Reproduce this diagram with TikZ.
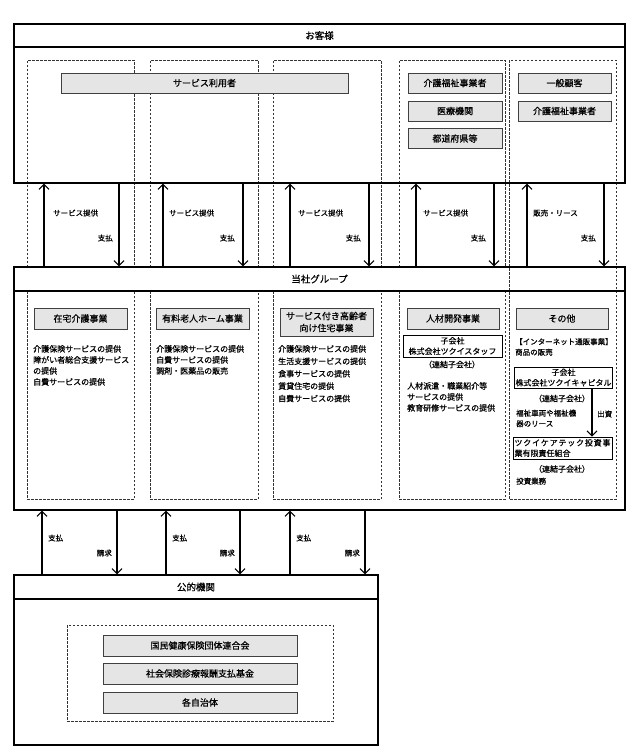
\documentclass[tikz,border=0pt]{standalone}
\usepackage{fontspec}
\newfontfamily\jpfont[FakeBold=0.6]{Noto Sans CJK JP}
\usetikzlibrary{arrows.meta}

\begin{document}
\begin{tikzpicture}[x=1pt, y=-1pt, font=\jpfont]
	\tikzstyle{frameStyle}=[draw, line width=1.3pt, inner sep=0pt, font=\jpfont\fontsize{9.5}{11}\selectfont]
	\tikzstyle{grayStyle}=[draw=black!75, fill=black!10, line width=0.8pt, inner sep=0pt, align=center, font=\jpfont\fontsize{9}{12}\selectfont]
	\tikzstyle{subStyle}=[draw, line width=0.8pt, inner sep=0pt, align=center, font=\jpfont\fontsize{8}{10.5}\selectfont]
	\tikzstyle{colStyle}=[draw=black!80, line width=0.7pt, dash pattern=on 2.5pt off 1.5pt]
	\tikzstyle{flowStyle}=[-{Straight Barb[length=5pt, width=10pt]}, line width=1.1pt]
	\tikzstyle{labelStyle}=[inner sep=0pt, font=\jpfont\fontsize{7.5}{9}\selectfont]
	\tikzstyle{listStyle}=[anchor=north west, inner sep=0pt, align=left, font=\jpfont\fontsize{8}{11}\selectfont]
	\tikzstyle{noteStyle}=[inner sep=0pt, font=\jpfont\fontsize{8}{10}\selectfont]
	\useasboundingbox (0,0) rectangle (633,755);
	\draw[colStyle] (27,267) -- (27,60) -- (134,60) -- (134,267);
	\draw[colStyle] (27,291) -- (27,499) -- (134,499) -- (134,291);
	\draw[colStyle] (150,267) -- (150,60) -- (258,60) -- (258,267);
	\draw[colStyle] (150,291) -- (150,499) -- (258,499) -- (258,291);
	\draw[colStyle] (273,267) -- (273,60) -- (381,60) -- (381,267);
	\draw[colStyle] (273,291) -- (273,499) -- (381,499) -- (381,291);
	\draw[colStyle] (399,267) -- (399,60) -- (505,60) -- (505,267);
	\draw[colStyle] (399,291) -- (399,499) -- (505,499) -- (505,291);
	\draw[colStyle] (509,60) rectangle (616,499);
	\node[frameStyle, minimum width=611pt, minimum height=23pt] (custHead) at (319.5,35.5) {お客様};
	\node[frameStyle, minimum width=611pt, minimum height=136pt] (custBody) at (319.5,115) {};
	\node[grayStyle, minimum width=287pt, minimum height=20pt] (users) at (204.5,83) {サービス利用者};
	\node[grayStyle, minimum width=94pt, minimum height=20pt] (welfareA) at (455,83) {介護福祉事業者};
	\node[grayStyle, minimum width=94pt, minimum height=20pt] (medical) at (455,111) {医療機関};
	\node[grayStyle, minimum width=94pt, minimum height=20pt] (prefs) at (455,138.5) {都道府県等};
	\node[grayStyle, minimum width=93pt, minimum height=20pt] (general) at (564.5,83) {一般顧客};
	\node[grayStyle, minimum width=93pt, minimum height=20pt] (welfareB) at (564.5,111) {介護福祉事業者};
	\node[frameStyle, minimum width=611pt, minimum height=24pt] (grpHead) at (319.5,279) {当社グループ};
	\node[frameStyle, minimum width=611pt, minimum height=219pt] (grpBody) at (319.5,400.5) {};
	\draw[flowStyle] (grpHead.north -| 44,0) -- (custBody.south -| 44,0);
	\draw[flowStyle] (custBody.south -| 119,0) -- (grpHead.north -| 119,0);
	\draw[flowStyle] (grpHead.north -| 163,0) -- (custBody.south -| 163,0);
	\draw[flowStyle] (custBody.south -| 243,0) -- (grpHead.north -| 243,0);
	\draw[flowStyle] (grpHead.north -| 290,0) -- (custBody.south -| 290,0);
	\draw[flowStyle] (custBody.south -| 369,0) -- (grpHead.north -| 369,0);
	\draw[flowStyle] (grpHead.north -| 416,0) -- (custBody.south -| 416,0);
	\draw[flowStyle] (custBody.south -| 494,0) -- (grpHead.north -| 494,0);
	\draw[flowStyle] (grpHead.north -| 527,0) -- (custBody.south -| 527,0);
	\draw[flowStyle] (custBody.south -| 604,0) -- (grpHead.north -| 604,0);
	\node[labelStyle, anchor=west] (provA) at (53,213) {サービス提供};
	\node[labelStyle, anchor=east] (payA) at (113,238) {支払};
	\node[labelStyle, anchor=west] (provB) at (169,213) {サービス提供};
	\node[labelStyle, anchor=east] (payB) at (235,238) {支払};
	\node[labelStyle, anchor=west] (provC) at (298,213) {サービス提供};
	\node[labelStyle, anchor=east] (payC) at (361,238) {支払};
	\node[labelStyle, anchor=west] (provD) at (423,213) {サービス提供};
	\node[labelStyle, anchor=east] (payD) at (486,238) {支払};
	\node[labelStyle, anchor=west] (sales) at (533,213) {販売・リース};
	\node[labelStyle, anchor=east] (payE) at (596,238) {支払};
	\node[grayStyle, minimum width=93pt, minimum height=21pt] (home) at (80.5,318.5) {在宅介護事業};
	\node[grayStyle, minimum width=93pt, minimum height=21pt] (nursing) at (202.5,318.5) {有料老人ホーム事業};
	\node[grayStyle, minimum width=93pt, minimum height=28pt] (housing) at (326.5,322) {サービス付き高齢者\\向け住宅事業};
	\node[grayStyle, minimum width=92pt, minimum height=21pt] (staffing) at (453,318.5) {人材開発事業};
	\node[grayStyle, minimum width=92pt, minimum height=21pt] (other) at (562,318.5) {その他};
	\node[listStyle] (homeText) at (33,345) {介護保険サービスの提供\\障がい者総合支援サービス\\の提供\\自費サービスの提供};
	\node[listStyle] (nursingText) at (156,345) {介護保険サービスの提供\\自費サービスの提供\\調剤・医薬品の販売};
	\node[listStyle, font=\jpfont\fontsize{8}{12.4}\selectfont] (housingText) at (278,345) {介護保険サービスの提供\\生活支援サービスの提供\\食事サービスの提供\\賃貸住宅の提供\\自費サービスの提供};
	\node[subStyle, minimum width=99pt, minimum height=22pt] (staffSub) at (452.5,346) {子会社\\株式会社ツクイスタッフ};
	\node[noteStyle] (staffNote) at (452,364.5) {（連結子会社）};
	\node[listStyle] (staffText) at (407,382) {人材派遣・職業紹介等\\サービスの提供\\教育研修サービスの提供};
	\node[listStyle, font=\jpfont\fontsize{7.5}{10.5}\selectfont] (shopText) at (515,338) {【インターネット通販事業】\\商品の販売};
	\node[subStyle, minimum width=98pt, minimum height=21pt] (capitalSub) at (563.5,377.5) {子会社\\株式会社ツクイキャピタル};
	\node[noteStyle] (capitalNote) at (562,398.5) {（連結子会社）};
	\node[listStyle, font=\jpfont\fontsize{7.5}{10.5}\selectfont] (leaseText) at (516,409.5) {福祉車両や福祉機\\器のリース};
	\node[labelStyle, anchor=west] (invest) at (597,414) {出資};
	\node[subStyle, align=left, minimum width=99pt, minimum height=22pt] (fund) at (562.5,448) {{\addfontfeatures{LetterSpace=10}ツクイケアテック投資事}\\業有限責任組合\hfill};
	\draw[flowStyle] (capitalSub.south -| 592,0) -- (fund.north -| 592,0);
	\node[noteStyle] (fundNote) at (562,469) {（連結子会社）};
	\node[listStyle, font=\jpfont\fontsize{7.5}{10.5}\selectfont] (fundText) at (516,477.5) {投資業務};
	\node[frameStyle, minimum width=364pt, minimum height=24pt] (pubHead) at (196,587) {公的機関};
	\node[frameStyle, minimum width=364pt, minimum height=146pt] (pubBody) at (196,672) {};
	\node[colStyle, minimum width=266pt, minimum height=96pt, inner sep=0pt] (pubInner) at (200,673) {};
	\node[grayStyle, minimum width=194pt, minimum height=21pt] (kokuho) at (200,645.5) {国民健康保険団体連合会};
	\node[grayStyle, minimum width=194pt, minimum height=21pt] (shaho) at (200,673.5) {社会保険診療報酬支払基金};
	\node[grayStyle, minimum width=194pt, minimum height=21pt] (cities) at (200,702.5) {各自治体};
	\draw[flowStyle] (pubHead.north -| 42,0) -- (grpBody.south -| 42,0);
	\draw[flowStyle] (grpBody.south -| 117,0) -- (pubHead.north -| 117,0);
	\draw[flowStyle] (pubHead.north -| 166,0) -- (grpBody.south -| 166,0);
	\draw[flowStyle] (grpBody.south -| 240,0) -- (pubHead.north -| 240,0);
	\draw[flowStyle] (pubHead.north -| 290,0) -- (grpBody.south -| 290,0);
	\draw[flowStyle] (grpBody.south -| 365,0) -- (pubHead.north -| 365,0);
	\node[labelStyle, anchor=west] (payF) at (48,538) {支払};
	\node[labelStyle, anchor=east] (billF) at (112,553) {請求};
	\node[labelStyle, anchor=west] (payG) at (172,538) {支払};
	\node[labelStyle, anchor=east] (billG) at (235,553) {請求};
	\node[labelStyle, anchor=west] (payH) at (296,538) {支払};
	\node[labelStyle, anchor=east] (billH) at (360,553) {請求};
\end{tikzpicture}
\end{document}
